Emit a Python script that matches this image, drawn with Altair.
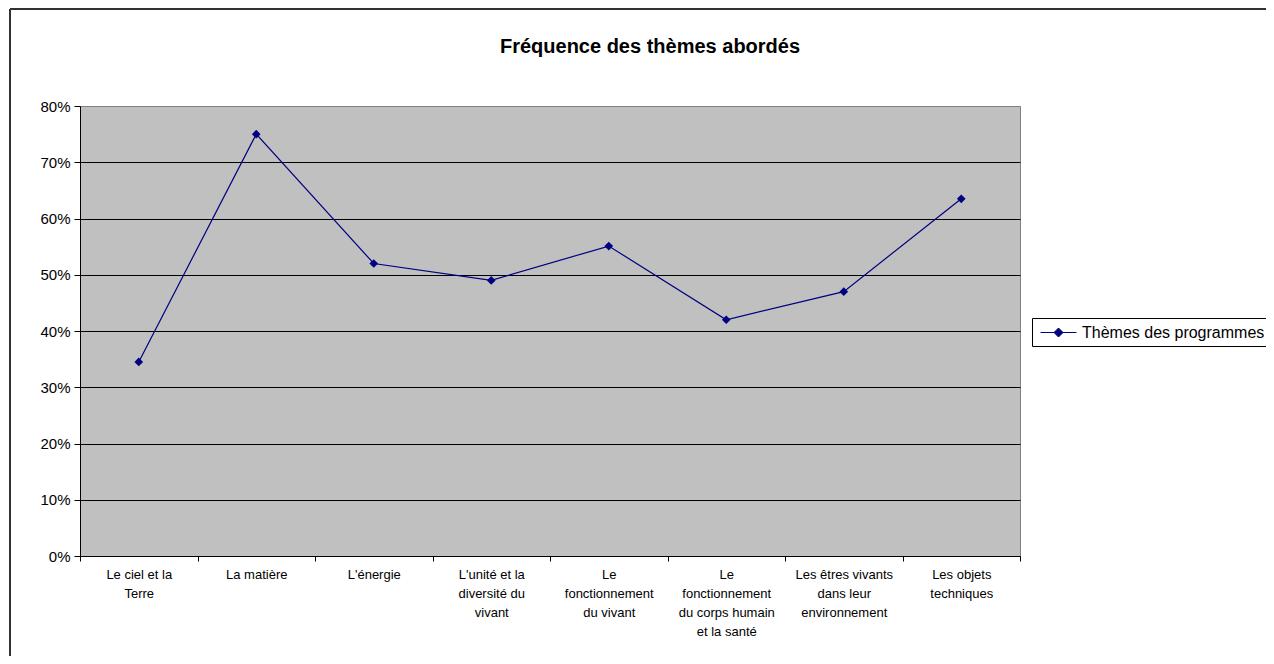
import altair as alt
import pandas as pd

categories = [
    "Le ciel et la Terre",
    "La matière",
    "L'énergie",
    "L'unité et la diversité du vivant",
    "Le fonctionnement du vivant",
    "Le fonctionnement du corps humain et la santé",
    "Les êtres vivants dans leur environnement",
    "Les objets techniques",
]
label_lines = [
    ["Le ciel et la", "Terre"],
    ["La matière"],
    ["L'énergie"],
    ["L'unité et la", "diversité du", "vivant"],
    ["Le", "fonctionnement", "du vivant"],
    ["Le", "fonctionnement", "du corps humain", "et la santé"],
    ["Les êtres vivants", "dans leur", "environnement"],
    ["Les objets", "techniques"],
]
values = [0.345, 0.75, 0.52, 0.49, 0.551, 0.42, 0.47, 0.635]
series_name = "Thèmes des programmes"
title_text = "Fréquence des thèmes abordés"
y_ticks = [0, 0.1, 0.2, 0.3, 0.4, 0.5, 0.6, 0.7, 0.8]

df = pd.DataFrame({"theme": categories, "freq": values, "series": series_name})

pairs = []
for c, lines in zip(categories, label_lines):
    key = c.replace("'", "\\'")
    arr = ",".join("'" + l.replace("'", "\\'") + "'" for l in lines)
    pairs.append(f"'{key}': [{arr}]")
label_expr = "{" + ",".join(pairs) + "}[datum.label]"

FONT = "Liberation Sans"
NAVY = "#000080"

x_enc = alt.X(
    "theme:N",
    sort=categories,
    scale=alt.Scale(paddingInner=0, paddingOuter=0),
    axis=alt.Axis(
        title=None,
        labelAngle=0,
        labelExpr=label_expr,
        labelFont=FONT,
        labelFontSize=13,
        labelColor="black",
        labelLineHeight=19,
        labelPadding=7,
        labelBaseline="top",
        tickBand="extent",
        tickColor="black",
        tickSize=5,
        domainColor="black",
        domainWidth=1,
        grid=False,
    ),
)
y_enc = alt.Y(
    "freq:Q",
    scale=alt.Scale(domain=[0, 0.8], nice=False, zero=True),
    axis=alt.Axis(
        title=None,
        values=y_ticks,
        format=".0%",
        labelFont=FONT,
        labelFontSize=15,
        labelColor="black",
        labelPadding=4,
        tickColor="black",
        tickSize=6,
        domainColor="black",
        grid=True,
        gridColor=alt.condition("datum.value >= 0.8", alt.value("#808080"), alt.value("black")),
        gridWidth=1,
        gridOpacity=1,
    ),
)
color_enc = alt.Color(
    "series:N",
    scale=alt.Scale(domain=[series_name], range=[NAVY]),
    legend=alt.Legend(
        title=None,
        orient="none",
        legendX=952,
        legendY=212,
        symbolType="M-2,0L2,0M0,-0.5L0.5,0L0,0.5L-0.5,0Z",
        symbolSize=324,
        symbolStrokeWidth=1,
        symbolFillColor=NAVY,
        symbolStrokeColor=NAVY,
        symbolOffset=12,
        labelOffset=14,
        labelLimit=400,
        labelFont=FONT,
        labelFontSize=16,
        labelColor="black",
        strokeColor="black",
        fillColor="white",
        padding=5,
    ),
)

line = alt.Chart(df).mark_line(strokeWidth=1.2).encode(x=x_enc, y=y_enc, color=color_enc)
pts = alt.Chart(df).mark_point(shape="diamond", filled=True, size=75, opacity=1).encode(
    x=x_enc, y=y_enc,
    color=alt.Color("series:N", scale=alt.Scale(domain=[series_name], range=[NAVY]), legend=None),
)

frame_top = alt.Chart(df).mark_rule(color="#333333", strokeWidth=1.5).encode(
    x=alt.value(-70), x2=alt.value(1200), y=alt.value(-97)
)
frame_left = alt.Chart(df).mark_rule(color="#333333", strokeWidth=1.5).encode(
    x=alt.value(-70), y=alt.value(-97), y2=alt.value(560)
)
title = alt.Chart(pd.DataFrame({"t": [title_text]})).mark_text(
    font=FONT, fontSize=20, fontWeight="bold", color="black", align="center", baseline="middle"
).encode(text="t:N", x=alt.value(570), y=alt.value(-59))

chart = alt.layer(frame_top, frame_left, line, pts, title).properties(
    width=940,
    height=450,
    autosize=alt.AutoSizeParams(type="none"),
    padding={"left": 72, "top": 98, "right": 246, "bottom": 100},
    background="white",
).configure_view(fill="#C0C0C0", stroke="#808080", strokeWidth=1)

chart.save("out.html", embed_options={"renderer": "svg", "actions": False})
